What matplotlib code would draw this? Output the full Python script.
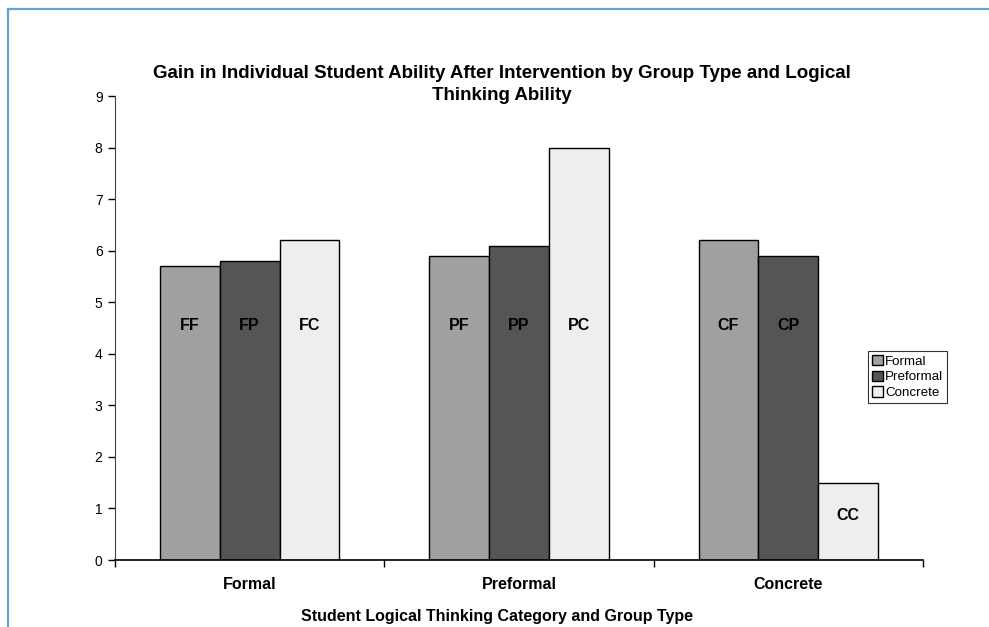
import matplotlib
matplotlib.use("Agg")
import matplotlib.pyplot as plt
from matplotlib.lines import Line2D
import numpy as np

plt.rcParams['font.family'] = ['Liberation Sans', 'DejaVu Sans']

categories = ["Formal", "Preformal", "Concrete"]
series_names = ["Formal", "Preformal", "Concrete"]
formal_vals = [5.7, 5.9, 6.2]
preformal_vals = [5.8, 6.1, 5.9]
concrete_vals = [6.2, 8.0, 1.5]
bar_labels = [["FF", "PF", "CF"], ["FP", "PP", "CP"], ["FC", "PC", "CC"]]
label_heights = [[4.55, 4.55, 4.55], [4.55, 4.55, 4.55], [4.55, 4.55, 0.87]]
colors = ["#a0a0a0", "#555555", "#eeeeee"]

W, H = 989, 627
fig = plt.figure(figsize=(W / 100, H / 100), dpi=100)
ax = fig.add_axes([115 / W, 1 - 560 / H, (923 - 115) / W, (560 - 96) / H])

x = np.arange(len(categories))
bw = 1 / 4.5
all_vals = [formal_vals, preformal_vals, concrete_vals]
for i, (vals, name, col) in enumerate(zip(all_vals, series_names, colors)):
    pos = x + (i - 1) * bw
    ax.bar(pos, vals, width=bw, color=col, edgecolor="black", linewidth=1.0, label=name)
    for p, lab, h in zip(pos, bar_labels[i], label_heights[i]):
        ax.text(p, h, lab, ha="center", va="center", fontsize=11.5, fontweight="bold")

ax.set_xlim(-0.5, 2.5)
ax.set_ylim(0, 9)
ax.set_yticks(range(10))
ax.tick_params(axis="y", direction="out", length=5, width=1, labelsize=10, pad=4)
ax.set_xticks(x)
ax.set_xticklabels(categories, fontsize=11.5, fontweight="bold")
ax.tick_params(axis="x", which="major", length=0, pad=12)
ax.set_xticks([-0.5, 0.5, 1.5, 2.5], minor=True)
ax.tick_params(axis="x", which="minor", direction="out", length=5, width=1)
for s in ["top", "right"]:
    ax.spines[s].set_visible(False)
ax.spines["left"].set_color("#404040")
ax.spines["bottom"].set_linewidth(1.2)

fig.text(502 / W, 1 - 73 / H,
         "Gain in Individual Student Ability After Intervention by Group Type and Logical",
         ha="center", va="center", fontsize=13.5, fontweight="bold")
fig.text(502 / W, 1 - 96 / H, "Thinking Ability",
         ha="center", va="center", fontsize=13.5, fontweight="bold")
fig.text(497 / W, 1 - 617 / H, "Student Logical Thinking Category and Group Type",
         ha="center", va="center", fontsize=11.5, fontweight="bold")

leg = ax.legend(loc="upper left", bbox_to_anchor=(868 / W, 1 - 351 / H),
                bbox_transform=fig.transFigure, frameon=True, fancybox=False,
                fontsize=9.6, handlelength=0.8, handleheight=0.8, handletextpad=0.2,
                borderpad=0.3, labelspacing=0.22, borderaxespad=0)
leg.get_frame().set_edgecolor("black")
leg.get_frame().set_linewidth(0.8)

# outer chart frame
fig.add_artist(Line2D([8 / W, 1], [1 - 9 / H, 1 - 9 / H], color="#6a9fd8", lw=1.6,
                      transform=fig.transFigure))
fig.add_artist(Line2D([8 / W, 8 / W], [0, 1 - 9 / H], color="#6a9fd8", lw=1.6,
                      transform=fig.transFigure))

fig.savefig("out.png", dpi=100)
